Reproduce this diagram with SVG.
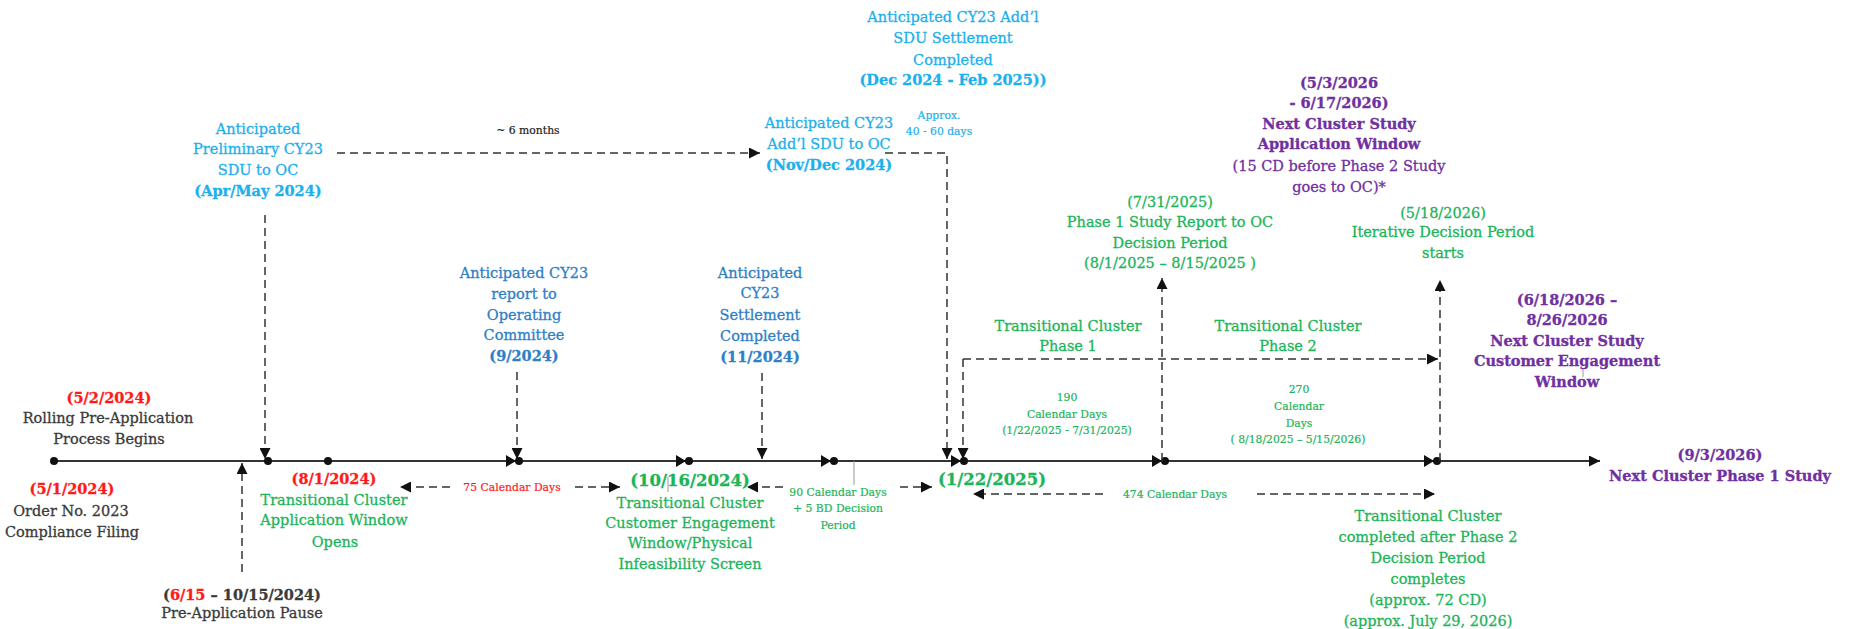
<svg xmlns="http://www.w3.org/2000/svg" width="1850" height="629" viewBox="0 0 1850 629">
<style>
text{font-family:"DejaVu Serif","Liberation Serif",serif;text-anchor:middle;font-size:14.5px;stroke-width:0.3px}
.b{font-weight:bold}
.s{font-size:10.8px;stroke-width:0.2px}
.big{font-size:16.5px;font-weight:bold}
.red{fill:#FF1A1A;stroke:#FF1A1A}
.dk{fill:#3A3A3A;stroke:#3A3A3A}
.lb{fill:#1CB0EC;stroke:#1CB0EC}
.mb{fill:#2E7FC6;stroke:#2E7FC6}
.gr{fill:#1DB45A;stroke:#1DB45A}
.pu{fill:#7030A0;stroke:#7030A0}
.blk{fill:#222;stroke:#222}
.d{fill:none;stroke:#333;stroke-width:1.5;stroke-dasharray:8 5}
.ax{stroke:#333;stroke-width:2;fill:none}
.tick{stroke:#999;stroke-width:1}
.dot{fill:#111}
</style>
<defs>
<marker id="ah" viewBox="0 0 10 10" refX="10" refY="5" markerWidth="13" markerHeight="11" markerUnits="userSpaceOnUse" orient="auto"><path d="M0,0 L10,5 L0,10 z" fill="#111"/></marker>
</defs>

<g id="axis">
<line class="ax" x1="54" y1="461" x2="1600" y2="461" marker-end="url(#ah)"/>
<circle class="dot" cx="54" cy="461" r="4"/>
<circle class="dot" cx="268" cy="461" r="4"/>
<circle class="dot" cx="328" cy="461" r="4"/>
<circle class="dot" cx="519" cy="461" r="4"/>
<circle class="dot" cx="689" cy="461" r="4"/>
<circle class="dot" cx="834" cy="461" r="4"/>
<circle class="dot" cx="964" cy="461" r="4"/>
<circle class="dot" cx="1165" cy="461" r="4"/>
<circle class="dot" cx="1437" cy="461" r="4"/>
<path class="dot" d="M506,455 L516,461 L506,467 z M676,455 L686,461 L676,467 z M821,455 L831,461 L821,467 z M951,455 L961,461 L951,467 z M1152,455 L1162,461 L1152,467 z M1424,455 L1434,461 L1424,467 z"/>
<line class="tick" x1="854" y1="461" x2="854" y2="485"/>
<line class="tick" x1="668" y1="477" x2="668" y2="492"/>
<line class="tick" x1="1583" y1="368" x2="1583" y2="377"/>
</g>

<g id="connectors">
<path class="d" d="M337,153 H760" marker-end="url(#ah)"/>
<path class="d" d="M265,215 V459" marker-end="url(#ah)"/>
<path class="d" d="M517,372 V459" marker-end="url(#ah)"/>
<path class="d" d="M762,373 V459" marker-end="url(#ah)"/>
<path class="d" d="M885,153 H947 V459" marker-end="url(#ah)"/>
<path class="d" d="M963,359 V459" marker-end="url(#ah)"/>
<path class="d" d="M963,359 H1438" marker-end="url(#ah)"/>
<path class="d" d="M1162,461 V278" marker-end="url(#ah)"/>
<path class="d" d="M1440,461 V280" marker-end="url(#ah)"/>
<path class="d" d="M242,572 V463" marker-end="url(#ah)"/>
<path class="d" d="M450,487 H400" marker-end="url(#ah)"/>
<path class="d" d="M575,487 H620" marker-end="url(#ah)"/>
<path class="d" d="M783,487 H747" marker-end="url(#ah)"/>
<path class="d" d="M900,487 H932" marker-end="url(#ah)"/>
<path class="d" d="M1103,494 H973" marker-end="url(#ah)"/>
<path class="d" d="M1257,494 H1435" marker-end="url(#ah)"/>
</g>

<g id="n-rolling">
<text x="109" y="403" class="b red">(5/2/2024)</text>
<text x="108" y="423" class="dk">Rolling Pre-Application</text>
<text x="109" y="444" class="dk">Process Begins</text>
</g>
<g id="n-order">
<text x="72" y="494" class="b red">(5/1/2024)</text>
<text x="71" y="516" class="dk">Order No. 2023</text>
<text x="72" y="537" class="dk">Compliance Filing</text>
</g>
<g id="n-pause">
<text x="242" y="600" class="b dk">(<tspan class="red">6/15</tspan> – 10/15/2024)</text>
<text x="242" y="618" class="dk">Pre-Application Pause</text>
</g>
<g id="n-appwindow">
<text x="334" y="484" class="b red">(8/1/2024)</text>
<text x="334" y="505" class="gr">Transitional Cluster</text>
<text x="334" y="525" class="gr">Application Window</text>
<text x="335" y="547" class="gr">Opens</text>
</g>
<g id="n-prelim">
<text x="258" y="134" class="lb">Anticipated</text>
<text x="258" y="154" class="lb">Preliminary CY23</text>
<text x="258" y="175" class="lb">SDU to OC</text>
<text x="258" y="196" class="b lb">(Apr/May 2024)</text>
</g>
<g id="n-6months">
<text x="528" y="134" class="s blk">~ 6 months</text>
</g>
<g id="n-report">
<text x="524" y="278" class="mb">Anticipated CY23</text>
<text x="524" y="299" class="mb">report to</text>
<text x="524" y="320" class="mb">Operating</text>
<text x="524" y="340" class="mb">Committee</text>
<text x="524" y="361" class="b mb">(9/2024)</text>
</g>
<g id="n-settlement">
<text x="760" y="278" class="mb">Anticipated</text>
<text x="760" y="298" class="mb">CY23</text>
<text x="760" y="320" class="mb">Settlement</text>
<text x="760" y="341" class="mb">Completed</text>
<text x="760" y="362" class="b mb">(11/2024)</text>
</g>
<g id="n-addl-sdu">
<text x="829" y="128" class="lb">Anticipated CY23</text>
<text x="829" y="149" class="lb">Add’l SDU to OC</text>
<text x="829" y="170" class="b lb">(Nov/Dec 2024)</text>
</g>
<g id="n-approx">
<text x="939" y="119" class="s lb">Approx.</text>
<text x="939" y="135" class="s lb">40 - 60 days</text>
</g>
<g id="n-addl-settlement">
<text x="953" y="22" class="lb">Anticipated CY23 Add’l</text>
<text x="953" y="43" class="lb">SDU Settlement</text>
<text x="953" y="65" class="lb">Completed</text>
<text x="953" y="85" class="b lb">(Dec 2024 - Feb 2025))</text>
</g>
<g id="n-1016">
<text x="690" y="486" class="big gr">(10/16/2024)</text>
<text x="690" y="508" class="gr">Transitional Cluster</text>
<text x="690" y="528" class="gr">Customer Engagement</text>
<text x="690" y="548" class="gr">Window/Physical</text>
<text x="690" y="569" class="gr">Infeasibility Screen</text>
</g>
<g id="n-75">
<text x="512" y="491" class="s red">75 Calendar Days</text>
</g>
<g id="n-90">
<text x="838" y="496" class="s gr">90 Calendar Days</text>
<text x="838" y="512" class="s gr">+ 5 BD Decision</text>
<text x="838" y="529" class="s gr">Period</text>
</g>
<g id="n-0122">
<text x="992" y="485" class="big gr">(1/22/2025)</text>
</g>
<g id="n-474">
<text x="1175" y="498" class="s gr">474 Calendar Days</text>
</g>
<g id="n-190">
<text x="1067" y="401" class="s gr">190</text>
<text x="1067" y="418" class="s gr">Calendar Days</text>
<text x="1067" y="434" class="s gr">(1/22/2025 -  7/31/2025)</text>
</g>
<g id="n-270">
<text x="1299" y="393" class="s gr">270</text>
<text x="1299" y="410" class="s gr">Calendar</text>
<text x="1299" y="427" class="s gr">Days</text>
<text x="1298" y="443" class="s gr">( 8/18/2025 – 5/15/2026)</text>
</g>
<g id="n-phase1">
<text x="1068" y="331" class="gr">Transitional Cluster</text>
<text x="1068" y="351" class="gr">Phase 1</text>
</g>
<g id="n-phase2">
<text x="1288" y="331" class="gr">Transitional Cluster</text>
<text x="1288" y="351" class="gr">Phase 2</text>
</g>
<g id="n-0731">
<text x="1170" y="207" class="gr">(7/31/2025)</text>
<text x="1170" y="227" class="gr">Phase 1 Study Report to OC</text>
<text x="1170" y="248" class="gr">Decision Period</text>
<text x="1170" y="268" class="gr">(8/1/2025 – 8/15/2025  )</text>
</g>
<g id="n-nextapp">
<text x="1339" y="88" class="b pu">(5/3/2026</text>
<text x="1339" y="108" class="b pu">- 6/17/2026)</text>
<text x="1339" y="129" class="b pu">Next Cluster Study</text>
<text x="1339" y="149" class="b pu">Application Window</text>
<text x="1339" y="171" class="pu">(15 CD before Phase 2 Study</text>
<text x="1339" y="192" class="pu">goes to OC)*</text>
</g>
<g id="n-0518">
<text x="1443" y="218" class="gr">(5/18/2026)</text>
<text x="1443" y="237" class="gr">Iterative Decision Period</text>
<text x="1443" y="258" class="gr">starts</text>
</g>
<g id="n-nextengage">
<text x="1567" y="305" class="b pu">(6/18/2026 –</text>
<text x="1567" y="325" class="b pu">8/26/2026</text>
<text x="1567" y="346" class="b pu">Next Cluster Study</text>
<text x="1567" y="366" class="b pu">Customer Engagement</text>
<text x="1567" y="387" class="b pu">Window</text>
</g>
<g id="n-nextphase1">
<text x="1720" y="460" class="b pu">(9/3/2026)</text>
<text x="1720" y="481" class="b pu">Next Cluster Phase 1 Study</text>
</g>
<g id="n-completed">
<text x="1428" y="521" class="gr">Transitional Cluster</text>
<text x="1428" y="542" class="gr">completed after Phase 2</text>
<text x="1428" y="563" class="gr">Decision Period</text>
<text x="1428" y="584" class="gr">completes</text>
<text x="1428" y="605" class="gr">(approx.  72 CD)</text>
<text x="1428" y="626" class="gr">(approx. July 29, 2026)</text>
</g>
</svg>
